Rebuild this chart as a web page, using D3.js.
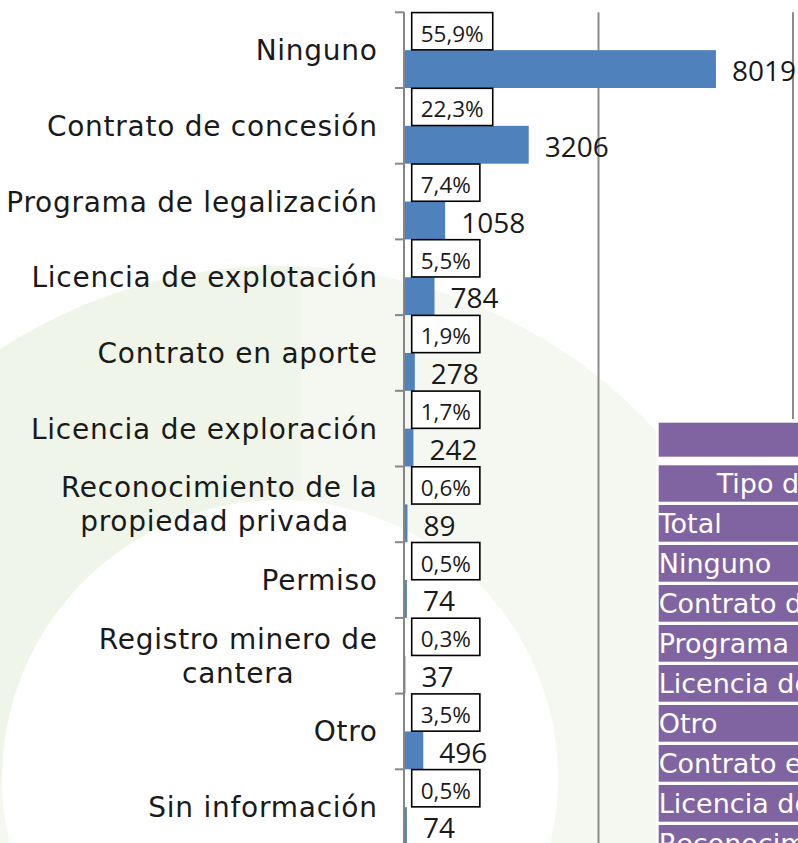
<!DOCTYPE html>
<html>
<head>
<meta charset="utf-8">
<script src="https://cdn.jsdelivr.net/npm/d3@7"></script>
<style>
  body { margin: 0; background: #fff; }
  svg { display: block; }
</style>
</head>
<body>
<script>
// data
var categories = [
    ['Ninguno'],
    ['Contrato de concesión'],
    ['Programa de legalización'],
    ['Licencia de explotación'],
    ['Contrato en aporte'],
    ['Licencia de exploración'],
    ['Reconocimiento de la', 'propiedad privada '],
    ['Permiso'],
    ['Registro minero de', 'cantera'],
    ['Otro'],
    ['Sin información']
]
var counts = [8019, 3206, 1058, 784, 278, 242, 89, 74, 37, 496, 74]
var percents = ['55,9%', '22,3%', '7,4%', '5,5%', '1,9%', '1,7%', '0,6%', '0,5%', '0,3%', '3,5%', '0,5%']
var gridValues = [5000, 10000]
var tableRows = ['Total', 'Ninguno', 'Contrato de concesión', 'Programa de legalización',
    'Licencia de explotación', 'Otro', 'Contrato en aporte', 'Licencia de exploración',
    'Reconocimiento de la propiedad privada']
var tableHeader = 'Tipo de título minero'

function plot_it() {
    var svgWidth = 798, svgHeight = 843
    var svg = d3.select('body').append('svg').attr('width', svgWidth).attr('height', svgHeight).attr('id', 'svg0')

    // watermark ring in the background (very light green)
    var cx = 280, cy = 778, rOut = 512, rIn = 278
    var ring = 'M' + (cx - rOut) + ',' + cy + 'a' + rOut + ',' + rOut + ' 0 1,0 ' + (2 * rOut) + ',0' + 'a' + rOut + ',' + rOut + ' 0 1,0 ' + (-2 * rOut) + ',0' +
        'M' + (cx - rIn) + ',' + cy + 'a' + rIn + ',' + rIn + ' 0 1,0 ' + (2 * rIn) + ',0' + 'a' + rIn + ',' + rIn + ' 0 1,0 ' + (-2 * rIn) + ',0'
    var defs = svg.append('defs')
    defs.append('clipPath').attr('id', 'darkpart').append('rect')
        .attr('x', 0).attr('y', 0).attr('width', 301).attr('height', 783)
    svg.append('path').attr('d', ring).attr('fill-rule', 'evenodd').attr('fill', '#f5f8f0')
    svg.append('path').attr('d', ring).attr('fill-rule', 'evenodd').attr('fill', '#eff5e8')
        .attr('clip-path', 'url(#darkpart)')

    var keys = categories.map(function (c, i) { return i })
    var y = d3.scaleBand().domain(keys).range([12.3, 845])
    var x = d3.scaleLinear().domain([0, 10000]).range([404, 793])
    var step = y.step()

    // gridlines
    svg.selectAll('.grid').data(gridValues).enter().append('line').attr('class', 'grid')
        .attr('x1', d => x(d)).attr('x2', d => x(d))
        .attr('y1', y.range()[0]).attr('y2', y.range()[1])
        .attr('stroke', '#8c8c8c').attr('stroke-width', 2)

    // bars in the lower half of each band
    svg.selectAll('.bar').data(counts).enter().append('rect').attr('class', 'bar')
        .attr('x', x(0)).attr('y', (d, i) => y(i) + step / 2)
        .attr('width', d => x(d) - x(0)).attr('height', step / 2)
        .attr('fill', '#4f81bd')

    // category axis
    var tickYs = keys.map(k => y(k)).concat([y.range()[1]])
    svg.append('line').attr('x1', x(0)).attr('x2', x(0)).attr('y1', y.range()[0]).attr('y2', y.range()[1])
        .attr('stroke', '#868686').attr('stroke-width', 2)
    svg.selectAll('.tick').data(tickYs).enter().append('line').attr('class', 'tick')
        .attr('x1', x(0) - 9).attr('x2', x(0)).attr('y1', d => d).attr('y2', d => d)
        .attr('stroke', '#868686').attr('stroke-width', 2)

    // category labels, multi-line ones centred on their widest line
    var labelRight = 377, lineGap = 34
    categories.forEach(function (lines, i) {
        var mid = y(i) + step / 2
        var g = svg.append('g').attr('class', 'cat')
        var texts = lines.map(function (line, j) {
            return g.append('text').text(line)
                .attr('y', mid + (j - (lines.length - 1) / 2) * lineGap + 10)
                .attr('font-family', 'DejaVu Sans').attr('font-size', '28px').attr('fill', '#1a1a1a')
                .attr('letter-spacing', '0.75px')
                .style('white-space', 'pre')
        })
        if (lines.length == 1) {
            texts[0].attr('x', labelRight + 0.75).attr('text-anchor', 'end')
        } else {
            var widths = texts.map(t => t.node().getComputedTextLength())
            var center = labelRight + 0.75 - d3.max(widths) / 2
            texts.forEach(t => t.attr('x', center).attr('text-anchor', 'middle'))
        }
    })

    // percentage labels in boxes (upper half of band)
    var pct = svg.selectAll('.pct').data(percents).enter().append('g').attr('class', 'pct')
    var pctText = pct.append('text').text(d => d)
        .attr('x', 420.7).attr('y', (d, i) => y(i) + 29.3)
        .attr('font-family', 'Open Sans').attr('font-size', '22.5px').attr('fill', '#1a1a1a')
    pct.insert('rect', 'text')
        .attr('x', 411.7).attr('y', (d, i) => y(i) + 0.3)
        .attr('width', function (d, i) { return pctText.nodes()[i].getComputedTextLength() + 18 })
        .attr('height', step / 2 - 0.6)
        .attr('fill', '#fff').attr('stroke', '#000').attr('stroke-width', 1.6)

    // value labels right of bars
    svg.selectAll('.val').data(counts).enter().append('text').attr('class', 'val')
        .text(d => d)
        .attr('x', d => x(d) + 16).attr('y', (d, i) => y(i) + step * 0.75 + 12.3)
        .attr('font-family', 'Open Sans').attr('font-size', '28px').attr('fill', '#1a1a1a')

    // table pasted on the lower right
    var table = svg.append('g').attr('id', 'table')
    table.append('rect').attr('x', 656).attr('y', 419).attr('width', svgWidth - 656).attr('height', svgHeight - 419)
        .attr('fill', '#fff')
    table.append('rect').attr('x', 658.7).attr('y', 422.7).attr('width', 200).attr('height', 34).attr('fill', '#8064a2')
    table.append('rect').attr('x', 658.7).attr('y', 465.3).attr('width', 200).attr('height', 36.4).attr('fill', '#8064a2')
    table.append('text').text(tableHeader).attr('x', 716.7).attr('y', 493.3)
        .attr('font-family', 'DejaVu Sans').attr('font-size', '27px').attr('fill', '#fff')
    var rows = table.selectAll('.row').data(tableRows).enter().append('g').attr('class', 'row')
        .attr('transform', (d, i) => 'translate(658.7,' + (505 + i * 40) + ')')
    rows.append('rect').attr('width', 200).attr('height', 36.7).attr('fill', '#8064a2')
    rows.append('text').text(d => d).attr('x', 0).attr('y', 27.7)
        .attr('font-family', 'DejaVu Sans').attr('font-size', '27px').attr('fill', '#fff')
}
plot_it()
</script>
</body>
</html>
